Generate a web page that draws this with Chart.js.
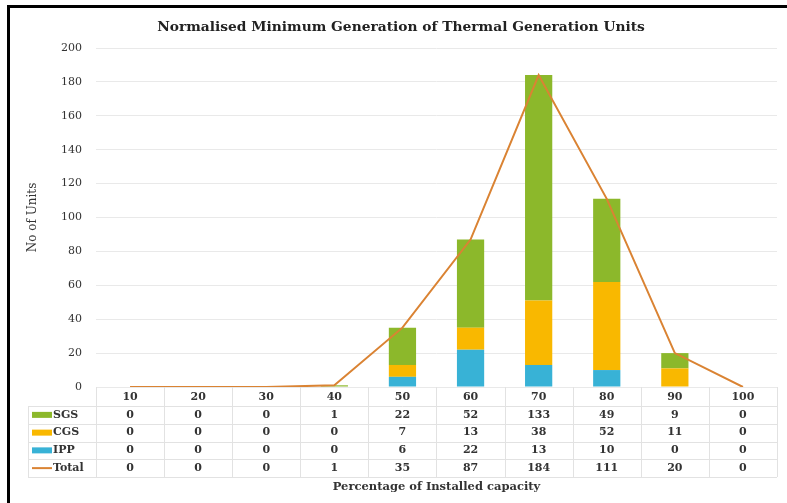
<!DOCTYPE html>
<html>
<head>
<meta charset="utf-8">
<script src="https://cdn.jsdelivr.net/npm/chart.js@4"></script>
<style>
  body { margin: 0; background: #fff; }
  #wrap { width: 787px; height: 503px; }
</style>
</head>
<body>
<div id="wrap"><canvas id="chart" width="787" height="503"></canvas></div>
<script>
var categories = ['10','20','30','40','50','60','70','80','90','100'];
var sgs   = [0,0,0,1,22,52,133,49,9,0];
var cgs   = [0,0,0,0,7,13,38,52,11,0];
var ipp   = [0,0,0,0,6,22,13,10,0,0];
var total = [0,0,0,1,35,87,184,111,20,0];
var yTicks = [0,20,40,60,80,100,120,140,160,180,200];

var serif = "'DejaVu Serif', 'Liberation Serif', serif";

// table rows under the x axis: label, values, colour, kind
var tableRows = [
  {label: 'SGS',   values: sgs,   color: '#8CB82B', kind: 'bar'},
  {label: 'CGS',   values: cgs,   color: '#F9B800', kind: 'bar'},
  {label: 'IPP',   values: ipp,   color: '#38B2D6', kind: 'bar'},
  {label: 'Total', values: total, color: '#DA8333', kind: 'line'}
];

var tablePlugin = {
  id: 'dataTable',
  beforeDraw: function(chart) {
    var ctx = chart.ctx;
    ctx.save();
    ctx.fillStyle = '#000';
    ctx.fillRect(7, 5, 780, 3);
    ctx.fillRect(7, 5, 3, 498);
    ctx.restore();
  },
  afterDraw: function(chart) {
    var ctx = chart.ctx;
    var x = chart.scales.x;
    var area = chart.chartArea;
    var step = x.getPixelForValue(1) - x.getPixelForValue(0);
    var left = area.left, right = area.right;
    var top = area.bottom;
    var headerH = 19, rowH = 17.75;
    var bottom = top + headerH + rowH * tableRows.length;
    var legendLeft = 28;

    ctx.save();
    ctx.strokeStyle = '#e2e2e2';
    ctx.lineWidth = 1;
    ctx.beginPath();
    for (var k = 0; k <= categories.length; k++) {
      var vx = Math.round(left + k * step) + 0.5;
      ctx.moveTo(vx, top);
      ctx.lineTo(vx, bottom);
    }
    ctx.moveTo(legendLeft + 0.5, top + headerH);
    ctx.lineTo(legendLeft + 0.5, bottom);
    for (var r = 0; r <= tableRows.length; r++) {
      var hy = Math.round(top + headerH + r * rowH) + 0.5;
      ctx.moveTo(legendLeft, hy);
      ctx.lineTo(right, hy);
    }
    ctx.stroke();

    ctx.font = 'bold 11px ' + serif;
    ctx.textBaseline = 'middle';
    tableRows.forEach(function(row, r) {
      var cy = top + headerH + r * rowH + rowH / 2;
      if (row.kind === 'bar') {
        ctx.fillStyle = row.color;
        ctx.fillRect(32, cy - 3, 20, 6);
      } else {
        ctx.strokeStyle = row.color;
        ctx.lineWidth = 2;
        ctx.beginPath();
        ctx.moveTo(32, cy);
        ctx.lineTo(52, cy);
        ctx.stroke();
      }
      ctx.fillStyle = '#333';
      ctx.textAlign = 'left';
      ctx.fillText(row.label, 53, cy);
      ctx.textAlign = 'center';
      row.values.forEach(function(v, i) {
        ctx.fillText(String(v), x.getPixelForValue(i), cy);
      });
    });

    // chart title
    ctx.font = 'bold 13.8px ' + serif;
    ctx.fillStyle = '#222';
    ctx.textAlign = 'center';
    ctx.fillText('Normalised Minimum Generation of Thermal Generation Units', 401, 27);
    ctx.restore();
  }
};

new Chart('chart', {
  type: 'bar',
  data: {
    labels: categories,
    datasets: [{
      type: 'line',
      label: 'Total',
      data: total,
      borderColor: '#DA8333',
      borderWidth: 2,
      pointRadius: 0,
      fill: false,
      tension: 0,
      stack: 'total',
      order: 0
    }, {
      label: 'IPP',
      data: ipp,
      backgroundColor: '#38B2D6',
      stack: 'units',
      order: 1
    }, {
      label: 'CGS',
      data: cgs,
      backgroundColor: '#F9B800',
      stack: 'units',
      order: 1
    }, {
      label: 'SGS',
      data: sgs,
      backgroundColor: '#8CB82B',
      stack: 'units',
      order: 1
    }]
  },
  options: {
    responsive: false,
    animation: false,
    layout: { padding: { top: 48, right: 10, left: 0, bottom: 0 } },
    datasets: {
      bar: { categoryPercentage: 1, barPercentage: 0.4 }
    },
    plugins: {
      legend: { display: false },
      tooltip: { enabled: false }
    },
    scales: {
      x: {
        stacked: true,
        grid: { display: false, drawTicks: false },
        border: { display: false },
        ticks: {
          padding: 4,
          color: '#333',
          font: { family: serif, size: 11, weight: 'bold' }
        },
        title: {
          display: true,
          text: 'Percentage of Installed capacity',
          color: '#333',
          padding: { top: 0, bottom: 9 },
          font: { family: serif, size: 11.5, weight: 'bold' }
        },
        afterFit: function(s) { s.height = 116; }
      },
      y: {
        stacked: true,
        min: 0,
        max: 200,
        afterBuildTicks: function(s) {
          s.ticks = yTicks.map(function(v) { return {value: v}; });
        },
        grid: { color: '#e9e9e9', drawTicks: false },
        border: { display: false },
        ticks: {
          padding: 14,
          color: '#333',
          font: { family: serif, size: 11 }
        },
        title: {
          display: true,
          text: 'No of Units',
          color: '#333',
          padding: { top: 26, bottom: 0 },
          font: { family: serif, size: 12 }
        },
        afterFit: function(s) { s.width = 96; }
      }
    }
  },
  plugins: [tablePlugin]
});
</script>
</body>
</html>
